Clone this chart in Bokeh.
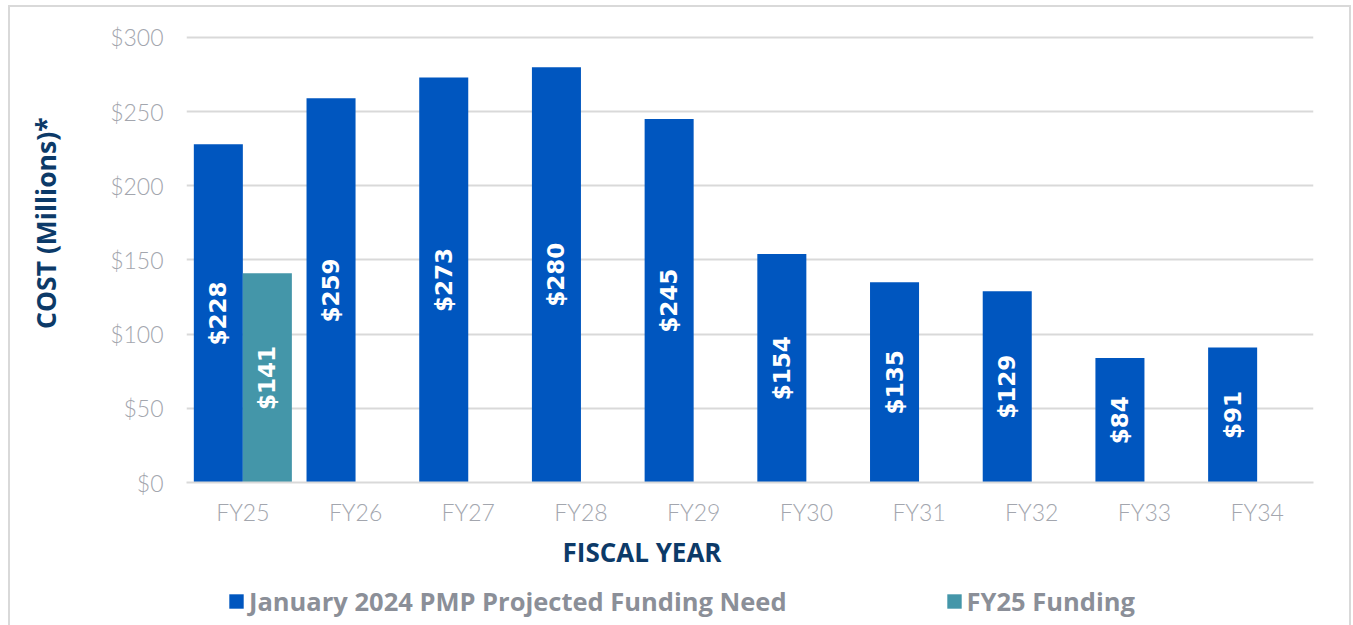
import math
from bokeh.plotting import figure
from bokeh.layouts import column, row
from bokeh.models import (FactorRange, Range1d, FixedTicker, PrintfTickFormatter,
                          ColumnDataSource, Legend, LegendItem, Title, Label)
from bokeh.transform import dodge
from bokeh.core.properties import value
from bokeh.embed import file_html
from bokeh.resources import INLINE

# ---- data ----
years = ["FY25", "FY26", "FY27", "FY28", "FY29", "FY30", "FY31", "FY32", "FY33", "FY34"]
need = [228, 259, 273, 280, 245, 154, 135, 129, 84, 91]
funding_years = ["FY25"]
funding = [141]
y_ticks = [0, 50, 100, 150, 200, 250, 300]
need_name = "January 2024 PMP Projected Funding Need"
funding_name = "FY25 Funding"
x_title = "FISCAL YEAR"
y_title = "COST (Millions)*"

BLUE = "#0056bf"
TEAL = "#4496a9"
GRID = "#d9d9d9"
NAVY = "#0c3a68"
TICK = "#a3a6ae"
LEG = "#8b8f98"

LEFT_W, MAIN_H, LEG_H = 100, 580, 45
W, H = 1353, 625

# ---------------- main chart ----------------
p = figure(width=W - LEFT_W, height=MAIN_H,
           x_range=FactorRange(*years, range_padding=0),
           y_range=Range1d(0, 310.1),
           output_backend="svg", toolbar_location=None,
           min_border_left=86, min_border_right=40,
           min_border_top=22, min_border_bottom=98)
p.outline_line_color = None
p.background_fill_color = "white"
p.border_fill_alpha = 0

src_need = ColumnDataSource(dict(year=years, val=need,
                                 mid=[v / 2 for v in need],
                                 lab=["$%d" % v for v in need]))
src_fund = ColumnDataSource(dict(year=funding_years, val=funding,
                                 mid=[v / 2 for v in funding],
                                 lab=["$%d" % v for v in funding]))

OFF = 0.2175
BW = 0.435
p.vbar(x=dodge("year", -OFF, range=p.x_range), top="val", width=BW,
       source=src_need, fill_color=BLUE, line_color=None)
p.vbar(x=dodge("year", OFF, range=p.x_range), top="val", width=BW,
       source=src_fund, fill_color=TEAL, line_color=None)

for src, off in ((src_need, -OFF), (src_fund, OFF)):
    p.text(x=dodge("year", off, range=p.x_range), y="mid", text="lab", source=src,
           angle=math.pi / 2, text_align="center", text_baseline="middle",
           text_color="white", text_font=value("DejaVu Sans"),
           text_font_style="bold", text_font_size="23px")

p.yaxis.ticker = FixedTicker(ticks=y_ticks)
p.yaxis.formatter = PrintfTickFormatter(format="$%d")
p.yaxis.axis_line_color = None
p.yaxis.major_tick_line_color = None
p.yaxis.minor_tick_line_color = None
p.yaxis.major_label_standoff = 17
p.yaxis.major_label_text_font = "Lato Light, Lato"
p.yaxis.major_label_text_font_size = "23px"
p.yaxis.major_label_text_color = TICK

p.xaxis.axis_line_color = GRID
p.xaxis.axis_line_width = 2
p.xaxis.major_tick_line_color = None
p.xaxis.minor_tick_line_color = None
p.xaxis.major_label_standoff = 9
p.xaxis.major_label_text_font = "Lato Light, Lato"
p.xaxis.major_label_text_font_size = "23px"
p.xaxis.major_label_text_color = TICK

p.xgrid.grid_line_color = None
p.ygrid.grid_line_color = GRID
p.ygrid.grid_line_width = 2

xt = Title(text=x_title, align="left", offset=376, standoff=8, vertical_align="middle",
           text_font="Open Sans", text_font_style="bold", text_font_size="26px",
           text_color=NAVY)
p.add_layout(xt, "below")

# ---------------- y-axis title strip ----------------
lt = figure(width=LEFT_W, height=MAIN_H, x_range=Range1d(0, LEFT_W),
            y_range=Range1d(0, MAIN_H), x_axis_type=None, y_axis_type=None,
            output_backend="svg", toolbar_location=None,
            min_border=0, min_border_left=0, min_border_right=0,
            min_border_top=0, min_border_bottom=0)
lt.outline_line_color = None
lt.background_fill_alpha = 0
lt.border_fill_alpha = 0
lt.add_layout(Label(x=45, y=MAIN_H - 253, text=y_title, angle=math.pi / 2,
                    text_align="center", text_baseline="middle",
                    text_font="Open Sans", text_font_style="bold",
                    text_font_size="26.5px", text_color=NAVY))

# ---------------- legend strip ----------------
lf = figure(width=W, height=LEG_H, x_range=Range1d(0, W), y_range=Range1d(0, LEG_H),
            x_axis_type=None, y_axis_type=None,
            output_backend="svg", toolbar_location=None,
            min_border=0, min_border_left=0, min_border_right=0,
            min_border_top=0, min_border_bottom=0)
lf.outline_line_color = None
lf.background_fill_alpha = 0
lf.border_fill_alpha = 0
# zero-height keys: they only supply the legend swatches
k1 = lf.vbar(x=[0], top=[0], bottom=[0], width=0, fill_color=BLUE, line_color=None)
k2 = lf.vbar(x=[0], top=[0], bottom=[0], width=0, fill_color=TEAL, line_color=None)
lg = Legend(items=[LegendItem(label=need_name, renderers=[k1]),
                   LegendItem(label=funding_name, renderers=[k2])],
            orientation="horizontal", location=(227, 7))
lg.glyph_width = 18
lg.glyph_height = 18
lg.label_standoff = 4
lg.spacing = 158
lg.padding = 0
lg.margin = 0
lg.border_line_color = None
lg.background_fill_alpha = 0
lg.label_text_font = "Open Sans"
lg.label_text_font_style = "bold"
lg.label_text_font_size = "25.5px"
lg.label_text_color = LEG
lf.add_layout(lg)

g = "linear-gradient(#d9d9d9, #d9d9d9)"
layout = column(row(lt, p), lf, spacing=0)
layout.styles = {
    "background-image": ", ".join([g, g, g]),
    "background-position": "8px 5px, 8px 5px, 1349px 5px",
    "background-size": "2px 640px, 1343px 2px, 2px 640px",
    "background-repeat": "no-repeat",
}

open("out.html", "w").write(file_html(layout, INLINE))
